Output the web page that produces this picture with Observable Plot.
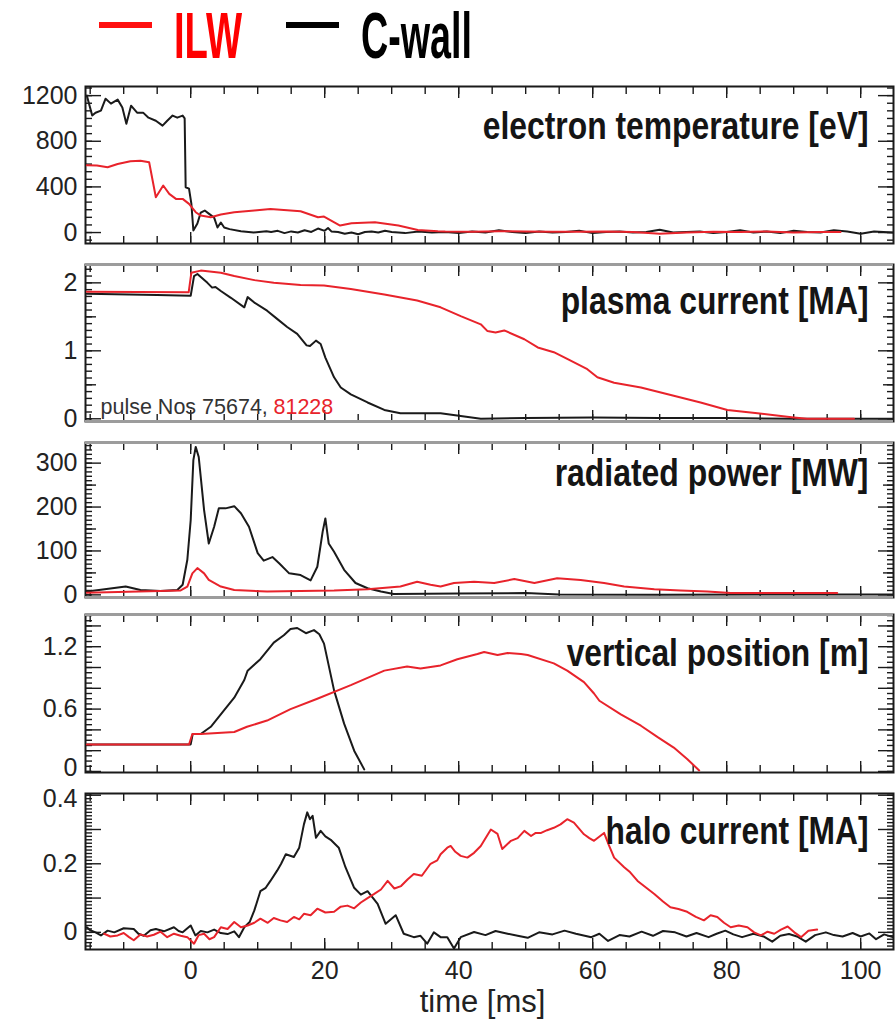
<!DOCTYPE html>
<html><head><meta charset="utf-8">
<script src="https://cdn.jsdelivr.net/npm/d3@7"></script>
<script src="https://cdn.jsdelivr.net/npm/@observablehq/plot@0.6"></script>
<style>
html,body{margin:0;padding:0;background:#fff;}
#root{position:relative;width:895px;height:1021px;overflow:hidden;background:#fff;}
#root > svg{position:absolute;left:0;}
</style></head>
<body><div id="root"></div>
<script>
// ---------------- data (time [ms], value) ----------------
const teCwall = [[-15.5,1200],[-14.7,1025],[-14.2,1050],[-13.4,1068],[-12.7,1173],[-11.9,1130],[-10.9,1165],[-10.2,1095],[-9.6,954],[-8.9,1112],[-8.0,1051],[-7.1,1051],[-6.3,1007],[-5.2,980],[-4.2,937],[-3.5,980],[-2.7,1025],[-2.0,1007],[-1.2,1025],[-0.9,1000],[-0.75,397],[-0.25,385],[0.1,254],[0.4,18],[1.0,79],[1.5,175],[2.1,193],[2.7,166],[3.5,131],[4.0,44],[4.5,88],[5.0,44],[5.8,30],[7.5,12],[9.4,0],[11.3,12],
 [12,5],[13,15],[14,-5],[15,10],[16,0],[17,20],[18,5],[19,35],[20,15],[20.5,40],[21,10],[22,5],[23,-10],[24,0],[25,-15],[26,5],[27,10],[28,0],[29,15],[30,5],[32,-5],[34,10],[36,0],[38,5],[40,-5],[42,10],[44,0],[46,20],[48,5],[50,-5],[52,10],[54,0],[56,5],[58,15],[60,-5],[62,5],[64,10],[66,0],[68,5],[70,25],[72,0],[74,5],[76,10],[78,-5],[80,5],[82,20],[84,0],[86,10],[88,-5],[90,15],[92,5],[94,0],[96,20],[98,10],[100,-10],[102,10],[104.8,0]];
const teILW = [[-15.5,590],[-14,587],[-12.4,572],[-10.9,601],[-9,625],[-7.5,630],[-6.2,616],[-5.2,309],[-4.1,412],[-3.2,339],[-2.2,295],[-1.2,295],[-0.25,251],[0.75,178],[1.5,149],[3,134],[4.5,158],[6.5,178],[9.5,193],[11.9,207],[14.9,193],[16.4,187],[19,134],[19.9,140],[22.3,61],[24,82],[27.5,90],[31,61],[33.9,23],[36.9,12],[38,10],[42,8],[46,12],[50,10],[54,6],[58,8],[62,10],[66,5],[70,-10],[74,0],[78,8],[82,5],[86,10],[90,0],[94,5],[97,5]];

const ipCwall = [[-15.5,1.84],[-5,1.82],[0,1.81],[0.5,2.10],[1.0,2.13],[2.5,2.0],[3.2,1.93],[3.7,1.94],[4.5,1.88],[6.0,1.78],[8.0,1.64],[8.5,1.79],[9.5,1.71],[11.4,1.59],[12.9,1.47],[14.4,1.35],[15.9,1.25],[17.3,1.08],[17.8,1.07],[18.7,1.15],[19.4,1.10],[20.1,0.90],[21.4,0.61],[22.4,0.46],[23.9,0.36],[26.4,0.24],[28.9,0.13],[31.3,0.08],[37.3,0.08],[40.3,0.04],[43.3,0.0],[50,0.01],[60,0.02],[70,0.01],[80,0.01],[90,0.0],[104.8,0.0]];
const ipILW = [[-15.5,1.87],[-0.3,1.86],[0.1,2.15],[1.5,2.18],[4.5,2.15],[6.5,2.10],[9.5,2.04],[12.4,2.0],[16.4,1.97],[19.9,1.96],[23.9,1.91],[28.9,1.83],[33.8,1.74],[37.3,1.64],[40.3,1.51],[43.3,1.39],[44.3,1.29],[45.5,1.27],[46.8,1.30],[49.8,1.17],[51.8,1.05],[54.2,0.98],[56.2,0.88],[59.2,0.73],[60.7,0.61],[63.2,0.53],[67.2,0.46],[72.1,0.34],[76.1,0.24],[80.1,0.13],[84.6,0.08],[90,0.02],[92,0.0],[99,0.0]];

const prCwall = [[-15.5,7.5],[-13.7,11],[-9.7,19],[-7.5,11],[-4.5,9],[-2,11],[-1.2,23],[-0.5,80],[0,170],[0.4,307],[0.75,337],[1.2,314],[2.0,193],[2.7,117],[3.5,155],[4.2,197],[5.2,197],[6.5,202],[7.5,186],[8.7,155],[10.0,95],[10.9,78],[12.2,86],[13.2,72],[14.7,49],[16.4,45],[17.9,33],[18.9,64],[19.7,144],[20.1,174],[20.6,117],[21.4,98],[22.9,57],[24.6,27],[26.4,15],[28.4,7.5],[30.3,2],[40,3],[50,4],[55,1],[70,0],[85,1],[104.8,1]];
const prILW = [[-15.5,5],[-1.5,10],[-0.5,19],[0.25,49],[1.0,61],[2.0,49],[2.7,34],[4.5,19],[6.5,11],[11.4,7.5],[21.4,10],[26.4,13],[31.3,19],[33.8,30],[35.8,23],[37.3,19],[39.3,27],[42.3,30],[45.3,27],[48.3,36],[51.3,27],[54.7,38],[58.2,34],[61.7,27],[64.7,19],[69.2,13],[73.1,10],[77.1,7.5],[80.6,4],[87,4],[96.5,4]];

const zCwall = [[-15.5,0.26],[-2.3,0.26],[0,0.26],[0.3,0.36],[1.5,0.36],[3.0,0.43],[5.0,0.59],[6.5,0.71],[8.0,0.88],[8.5,0.97],[10.4,1.08],[12.4,1.24],[13.9,1.31],[14.9,1.37],[15.9,1.38],[17.2,1.33],[18.4,1.36],[19.2,1.32],[19.9,1.23],[21.4,0.78],[22.9,0.46],[24.4,0.20],[25.9,0.02]];
const zILW = [[-15.5,0.26],[-0.25,0.26],[0.25,0.36],[1.5,0.36],[6.5,0.38],[8.4,0.43],[11.4,0.49],[14.9,0.60],[18.9,0.70],[23.9,0.83],[28.9,0.97],[32.3,1.01],[34.3,0.99],[36.3,1.01],[37.3,1.02],[39.8,1.08],[42.8,1.13],[43.8,1.15],[45.8,1.12],[47.3,1.14],[49.3,1.13],[50.3,1.12],[54.2,1.04],[56.2,0.97],[58.7,0.86],[60.2,0.75],[61,0.68],[64.2,0.55],[67.2,0.44],[69.7,0.33],[72.1,0.23],[74.1,0.12],[75.9,0.01]];

const haloCwall = [[-15.5,0.015],[-15,0.006],[-14.2,0.0],[-13.4,-0.009],[-12.4,0.005],[-11.4,0.0],[-10,0.012],[-8.5,0.01],[-7.8,-0.004],[-7,-0.01],[-6,0.006],[-5.2,0.01],[-4,0.003],[-2.5,0.015],[-1.8,0.004],[-1.2,0.0],[0,0.02],[0.7,-0.009],[1.5,0.004],[2.5,0.0],[3.5,0.008],[4.5,-0.002],[5.5,-0.005],[6.5,0.003],[7.2,-0.014],[8.0,0.015],[8.8,0.03],[9.5,0.064],[10.4,0.12],[11.2,0.13],[11.9,0.15],[12.9,0.18],[13.5,0.2],[14.2,0.228],[15.4,0.22],[16.2,0.247],[16.9,0.315],[17.4,0.35],[17.8,0.33],[18.2,0.34],[18.7,0.276],[19.4,0.296],[20.1,0.28],[20.9,0.27],[22.1,0.247],[23.1,0.19],[24.4,0.13],[25.4,0.11],[26.4,0.12],[27.9,0.083],[29.1,0.025],[30.6,0.05],[31.8,-0.004],[33.3,-0.014],[34.3,-0.01],[35.3,-0.033],[36.3,0.0],[37.3,-0.014],[38.3,-0.014],[39.3,-0.047],[40.3,-0.014],[42.3,0.001],[44,-0.008],[45.5,0.004],[47.3,-0.004],[48.8,-0.01],[50.3,-0.016],[52,0.0],[54,-0.006],[55.8,0.005],[57.5,-0.004],[59.8,-0.014],[61,-0.004],[62.3,-0.025],[64,-0.008],[65.5,-0.012],[67.3,0.002],[69,-0.01],[70.5,0.004],[72.3,0.0],[74,-0.012],[75.5,-0.002],[77.3,-0.014],[78.5,-0.004],[79.8,0.005],[81,-0.006],[82.3,-0.014],[84,-0.004],[85.5,-0.012],[86.8,-0.027],[88,-0.01],[89.3,-0.005],[90.5,-0.012],[91.8,-0.027],[93.2,-0.008],[94.8,0.0],[96,-0.008],[97.3,-0.012],[98.8,-0.002],[100,-0.012],[101.3,-0.003],[102.3,-0.02],[103.5,-0.006],[104.8,-0.014]];
const haloILW = [[-12.9,-0.004],[-12,-0.012],[-10.9,-0.009],[-10,-0.002],[-9.2,-0.014],[-8.5,-0.023],[-7.5,-0.006],[-6.5,-0.012],[-5.5,-0.007],[-4.5,0.002],[-3.5,-0.014],[-2.5,-0.004],[-1.5,-0.01],[-0.5,-0.014],[0.5,-0.033],[1.2,-0.008],[2.0,-0.004],[2.8,-0.02],[3.5,-0.014],[4.5,0.015],[5.5,0.01],[6.5,0.03],[7.5,0.015],[8.5,0.02],[9.5,0.028],[10.4,0.04],[11.5,0.028],[12.4,0.042],[13.4,0.035],[14.4,0.03],[15.4,0.045],[16.2,0.038],[16.9,0.054],[17.9,0.05],[18.9,0.069],[20.1,0.058],[21.4,0.06],[22.4,0.075],[23.4,0.078],[24.4,0.07],[25.4,0.087],[26.4,0.1],[27.4,0.112],[28.4,0.125],[29.4,0.15],[30.4,0.128],[31.4,0.135],[32.4,0.155],[33.3,0.17],[34.5,0.165],[35.8,0.2],[36.8,0.21],[37.3,0.228],[38.3,0.247],[38.8,0.252],[39.5,0.235],[40.3,0.223],[41.3,0.218],[42.3,0.232],[43.3,0.252],[44.8,0.3],[45.8,0.287],[46.5,0.243],[47.8,0.267],[48.8,0.275],[49.8,0.296],[50.8,0.281],[51.5,0.29],[52.3,0.29],[53.2,0.298],[54.2,0.305],[55.2,0.315],[56.2,0.33],[57.2,0.32],[58.7,0.286],[59.5,0.275],[60.2,0.267],[61.7,0.29],[62.4,0.255],[63.2,0.218],[64.7,0.19],[65.6,0.175],[66.7,0.15],[68,0.13],[69.2,0.112],[70.5,0.09],[71.6,0.073],[72.8,0.068],[74.1,0.06],[75.4,0.045],[76.6,0.035],[77.6,0.05],[78.6,0.045],[79.6,0.028],[80.6,0.015],[81.8,0.02],[83.1,0.015],[84.1,0.0],[85.1,-0.009],[86.1,0.002],[87.1,-0.004],[88.1,0.008],[89.1,0.017],[90.1,0.0],[91.1,-0.014],[92.2,0.005],[93.5,0.008]];

// tick labels
const xTickLabels = [0, 20, 40, 60, 80, 100];
const teLabels = [0, 400, 800, 1200];
const ipLabels = [0, 1, 2];
const prLabels = [0, 100, 200, 300];
const zLabels = [0, 0.6, 1.2];
const haloLabels = [0, 0.2, 0.4];
const titles = ["electron temperature [eV]", "plasma current [MA]", "radiated power [MW]", "vertical position [m]", "halo current [MA]"];
const seriesNames = ["ILW", "C-wall"];
const pulseText = ["pulse Nos 75674, ", "81228"];

// ---------------- styling ----------------
const RED = "#e8232b", BLACK = "#1a1a1a";
const FONT = "'Liberation Sans', Arial, Helvetica, sans-serif";
const xDomain = [-15.7, 104.9];

function steps(a, b, s) { const r = []; const n = Math.round((b - a) / s); for (let i = 0; i <= n; i++) r.push(+(a + i * s).toFixed(6)); return r; }
const inDom = (arr, d) => arr.filter(v => v >= Math.min(...d) && v <= Math.max(...d));

// condensed look: shrink the font until the width fits, then stretch vertically back to the wanted height
// (about the em-box centre, or about a given baseline y)
function stretch(el, targetW, targetSize, originY) {
  el.style.fontSize = targetSize + "px";
  const w = el.getComputedTextLength();
  const fs = targetSize * targetW / w;
  el.style.fontSize = fs + "px";
  const b = el.getBBox();
  const cy = originY !== undefined ? originY : b.y + b.height / 2;
  const k = targetSize / fs;
  const g = document.createElementNS("http://www.w3.org/2000/svg", "g");
  el.parentNode.insertBefore(g, el);
  g.appendChild(el);
  g.setAttribute("transform", `translate(0,${cy}) scale(1,${k}) translate(0,${-cy})`);
}

const root = document.getElementById("root");

function panel(cfg) {
  const mt = 4, mb = cfg.bottomAxis ? 72 : 4;
  const yd = cfg.yDomain;
  const xMinor = inDom(steps(-15, 105, 5), xDomain);
  const xMajor = inDom(steps(-20, 100, 20), xDomain);
  const yMinor = inDom(cfg.minor, yd), yMed = inDom(cfg.medium || [], yd), yMaj = inDom(cfg.major, yd);
  const tick = {tickFormat: () => "", label: null, strokeWidth: 1.4, stroke: BLACK};
  const marks = [
    Plot.frame({stroke: BLACK, strokeWidth: 2}),
    Plot.axisX({...tick, anchor: "top", ticks: xMinor, tickSize: -7}),
    Plot.axisX({...tick, anchor: "top", ticks: xMajor, tickSize: -11}),
    Plot.axisX({...tick, anchor: "bottom", ticks: xMinor, tickSize: -7}),
    Plot.axisX({...tick, anchor: "bottom", ticks: xMajor, tickSize: -11}),
    Plot.axisY({...tick, anchor: "left", ticks: yMinor, tickSize: -7}),
    Plot.axisY({...tick, anchor: "left", ticks: yMed, tickSize: -11}),
    Plot.axisY({...tick, anchor: "left", ticks: yMaj, tickSize: -16}),
    Plot.axisY({...tick, anchor: "right", ticks: yMinor, tickSize: -7}),
    Plot.axisY({...tick, anchor: "right", ticks: yMed, tickSize: -11}),
    Plot.axisY({...tick, anchor: "right", ticks: yMaj, tickSize: -16}),
  ];
  const shift = cfg.labelShift || {};
  for (const v of cfg.labels) {
    marks.push(Plot.axisY({anchor: "left", ticks: [v], tickSize: 0, tickPadding: 8, fontSize: 25, fill: "#222", label: null,
      tickFormat: d => String(d), dy: shift[v] || 0}));
  }
  if (cfg.grayTop) marks.push(Plot.ruleY([yd[1]], {stroke: "#9c9c9c", strokeWidth: 3}));
  if (cfg.grayBottom) marks.push(Plot.ruleY([yd[0]], {stroke: "#9c9c9c", strokeWidth: 3}));
  if (cfg.bottomAxis) {
    marks.push(Plot.axisX({anchor: "bottom", ticks: xTickLabels, tickSize: 0, tickPadding: 12, fontSize: 25, fill: "#222", label: null, tickFormat: d => String(d)}));
    marks.push(Plot.text(["time [ms]"], {text: d => d, frameAnchor: "bottom", dx: -7, dy: 53, fontSize: 31, fill: "#222", lineAnchor: "middle"}));
  }
  if (cfg.extra) marks.push(...cfg.extra);
  marks.push(Plot.line(cfg.black, {x: d => d[0], y: d => d[1], stroke: BLACK, strokeWidth: 2, clip: true}));
  marks.push(Plot.line(cfg.red, {x: d => d[0], y: d => d[1], stroke: RED, strokeWidth: 2, clip: true}));
  marks.push(Plot.text([cfg.title], {text: d => d, frameAnchor: "top-right", textAnchor: "end", dx: -25, dy: cfg.titleDy, fontSize: 38, fontWeight: "bold", fill: "#151515", lineAnchor: "middle"}));

  const svg = Plot.plot({
    width: 895, height: cfg.h + mt + mb,
    marginLeft: 85, marginRight: 2, marginTop: mt, marginBottom: mb,
    style: {fontFamily: FONT, fontSize: "25px", color: BLACK, background: "transparent", overflow: "visible"},
    x: {domain: xDomain, axis: null},
    y: {domain: yd, axis: null},
    marks
  });
  svg.style.top = (cfg.top - mt) + "px";
  root.appendChild(svg);
  d3.select(svg).selectAll("text").each(function () {
    if (this.textContent === cfg.title) stretch(this, cfg.titleW, 38);
  });
}

// ---------------- legend ----------------
const LEG_BASE = 58;
const leg = d3.create("svg").attr("width", 895).attr("height", 84).style("top", "0px");
leg.append("line").attr("x1", 99).attr("x2", 152).attr("y1", 25).attr("y2", 25).attr("stroke", "#ff1010").attr("stroke-width", 6);
const tILW = leg.append("text").attr("x", 174).attr("y", LEG_BASE).attr("font-family", FONT).attr("font-weight", "bold")
  .attr("fill", "#ff0000").text(seriesNames[0]);
leg.append("line").attr("x1", 286).attr("x2", 339).attr("y1", 25).attr("y2", 25).attr("stroke", "#000").attr("stroke-width", 6);
const tC = leg.append("text").attr("x", 361).attr("y", LEG_BASE).attr("font-family", FONT).attr("font-weight", "bold")
  .attr("fill", "#000").text(seriesNames[1]);
root.appendChild(leg.node());
stretch(tILW.node(), 68, 64, LEG_BASE);
stretch(tC.node(), 111, 64, LEG_BASE);

// ---------------- panels ----------------
panel({top: 86, h: 157, yDomain: [-96, 1280], labels: teLabels, major: teLabels, medium: [], minor: steps(-66.67, 1266.7, 66.667),
  black: teCwall, red: teILW, title: titles[0], titleDy: 39, titleW: 386});
panel({top: 264, h: 157, yDomain: [-0.04, 2.27], labels: ipLabels, major: ipLabels, medium: [0.5, 1.5], minor: steps(0, 2.2, 0.1),
  black: ipCwall, red: ipILW, title: titles[1], titleDy: 36, titleW: 308, grayTop: true, grayBottom: true,
  extra: [
    Plot.text([pulseText[0]], {text: d => d, frameAnchor: "bottom-left", textAnchor: "start", dx: 15, dy: -14, fontSize: 21.5, fill: "#333", lineAnchor: "middle"}),
    Plot.text([pulseText[1]], {text: d => d, frameAnchor: "bottom-left", textAnchor: "start", dx: 188, dy: -14, fontSize: 21.5, fill: RED, lineAnchor: "middle"})
  ]});
panel({top: 442, h: 155, yDomain: [-6, 347], labels: prLabels, major: prLabels, medium: [50, 150, 250], minor: steps(0, 340, 10),
  black: prCwall, red: prILW, title: titles[2], titleDy: 30, titleW: 314, grayTop: true, grayBottom: true});
panel({top: 614, h: 158, yDomain: [-0.01, 1.51], labels: zLabels, labelShift: {0: -3}, major: steps(0, 1.4, 0.2), medium: [], minor: steps(0, 1.5, 0.05),
  black: zCwall, red: zILW, title: titles[3], titleDy: 38, titleW: 302, grayTop: true});
panel({top: 793, h: 156, yDomain: [-0.05, 0.405], labels: haloLabels, labelShift: {0.4: 4}, major: steps(0, 0.4, 0.1), medium: [], minor: steps(-0.04, 0.4, 0.01),
  black: haloCwall, red: haloILW, title: titles[4], titleDy: 37, titleW: 263, bottomAxis: true});
</script>
</body></html>
